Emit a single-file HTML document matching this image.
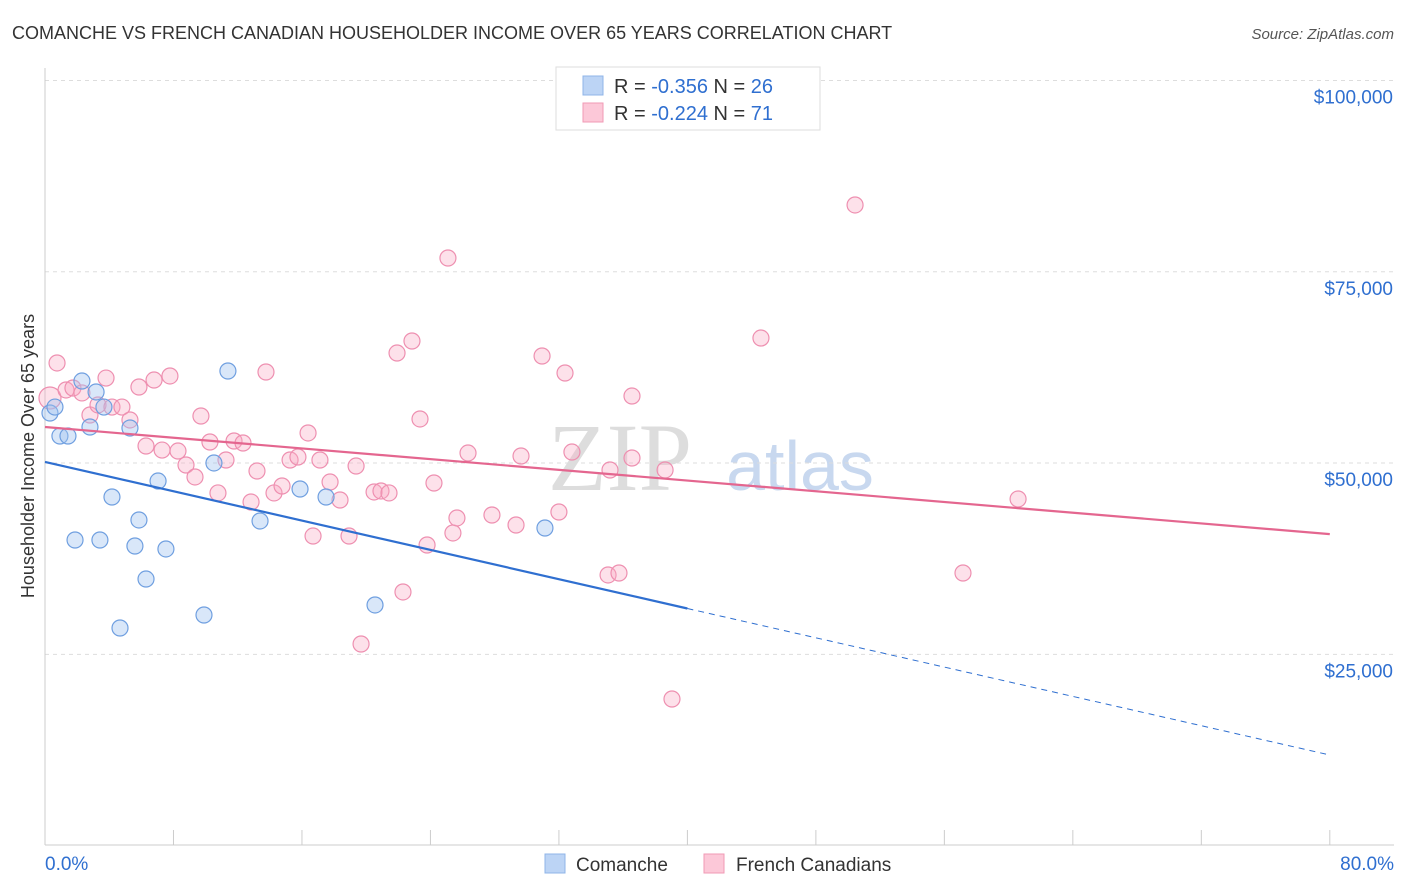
<!DOCTYPE html>
<html><head><meta charset="utf-8"><style>
body{margin:0;background:#fff;font-family:"Liberation Sans",sans-serif;}
svg{display:block}
</style></head><body>
<svg id="chart" width="1406" height="892">
<text x="12" y="39" font-size="18" fill="#333">COMANCHE VS FRENCH CANADIAN HOUSEHOLDER INCOME OVER 65 YEARS CORRELATION CHART</text>
<text x="1394" y="39" font-size="15" fill="#555" font-style="italic" text-anchor="end">Source: ZipAtlas.com</text>
<text x="620" y="490" font-size="96" fill="#ddd" font-family="Liberation Serif,serif" text-anchor="middle">ZIP</text>
<text x="800" y="490" font-size="70" fill="#c8d8ef" text-anchor="middle">atlas</text>
<g id="grid"></g>
<g id="axes"></g>
<g id="marks"></g>
<text transform="translate(34,456) rotate(-90)" font-size="18" fill="#333" text-anchor="middle">Householder Income Over 65 years</text>
<g>
<rect x="556" y="67" width="264" height="63" fill="#fff" stroke="#ddd"/>
<rect x="583" y="76" width="20" height="19" fill="#bcd4f5" stroke="#8fb4e8"/>
<rect x="583" y="103" width="20" height="19" fill="#fcc8d8" stroke="#f09ab5"/>
<text x="614" y="93" font-size="20" fill="#333">R = <tspan fill="#2f6fd0">-0.356</tspan>   N = <tspan fill="#2f6fd0">26</tspan></text>
<text x="614" y="120" font-size="20" fill="#333">R = <tspan fill="#2f6fd0">-0.224</tspan>   N = <tspan fill="#2f6fd0"> 71</tspan></text>
</g>
<g>
<rect x="545" y="854" width="20" height="19" fill="#bcd4f5" stroke="#8fb4e8"/>
<text x="576" y="871" font-size="19" fill="#333">Comanche</text>
<text x="736" y="871" font-size="19" fill="#333">French Canadians</text>
<rect x="704" y="854" width="20" height="19" fill="#fcc8d8" stroke="#f09ab5"/>
</g>
</svg>
<script>
const blueX=[0.31,0.62,0.93,1.43,2.30,3.18,3.67,2.80,5.29,4.17,5.85,1.87,3.42,5.60,7.53,6.29,4.67,7.04,10.52,11.39,13.39,9.90,15.88,17.50,20.55,31.13];
const blueY=[56540,57320,53530,53530,60720,59290,57320,54710,54580,45560,42560,39940,39940,39160,38770,34840,28440,47650,50010,62030,42430,30140,46610,45560,31450,41510];
const pinkX=[0.31,0.75,1.31,1.74,2.30,2.80,3.30,3.80,4.17,4.79,5.29,5.85,6.29,6.79,7.29,7.78,8.28,8.78,9.34,9.71,10.27,10.77,11.27,11.77,12.33,12.83,13.20,13.76,14.26,14.76,15.26,15.75,16.38,16.69,17.12,17.75,18.37,18.93,19.37,19.68,20.49,20.92,21.42,21.92,22.29,22.85,23.35,23.79,24.22,25.09,25.40,25.65,26.34,27.83,29.33,29.64,30.95,32.00,32.38,32.81,35.06,35.18,35.74,36.55,36.55,38.61,39.04,44.58,50.44,57.16,60.59];
const pinkY=[58500,63080,59550,59810,59160,56280,57590,61110,57320,57320,55630,59940,52230,60850,51700,61380,51570,49740,48180,56150,52750,46090,50400,52880,52620,44910,48960,61900,46090,47000,50400,50790,53930,40460,50400,47520,45170,40460,49610,26350,46220,46350,46090,64380,33150,65950,55760,39290,47390,76800,40860,42820,51310,43210,41900,50920,63990,43600,61770,51440,35370,49090,35630,50660,58760,49090,19160,66340,83730,35630,45300];
const yTicks=[25000,50000,75000,100000];
const yTickLabels=["$25,000","$50,000","$75,000","$100,000"];
const xTickLabels=["0.0%","80.0%"];
const blueTrend=[50140,11840]; // y at x=0 and x=80
const blueSolidEnd=40;
const pinkTrend=[54710,40710];
const NS="http://www.w3.org/2000/svg";
const X=v=>45+v*16.06;
const Y=v=>845.6-v/130.7;
function mk(tag,attrs,parent){const e=document.createElementNS(NS,tag);for(const k in attrs)e.setAttribute(k,attrs[k]);parent.appendChild(e);return e;}
const grid=document.getElementById('grid'),axes=document.getElementById('axes'),marks=document.getElementById('marks');
yTicks.forEach((t,i)=>{
  const l=mk('line',{x1:45,x2:1394,y1:Y(t),y2:Y(t),stroke:'#ddd','stroke-dasharray':'4,4'},grid);
  
  
  const tx=mk('text',{x:1393,y:Y(t)+23,'font-size':19,fill:'#2f6fd0','text-anchor':'end'},axes);
  tx.textContent=yTickLabels[i];
  
  
});
const xa=mk('line',{x1:45,x2:1394,y1:845,y2:845,stroke:'#ccc'},axes);


const ya=mk('line',{x1:45,x2:45,y1:68,y2:845,stroke:'#ccc'},axes);


for(let i=0;i<=10;i++){const t=mk('line',{x1:X(i*8),x2:X(i*8),y1:830,y2:845,stroke:'#ccc'},axes);
  
  }
[[0,'start',45],[80,'end',1394]].forEach((d,i)=>{const t=mk('text',{x:d[2],y:870,'font-size':19,fill:'#2f6fd0','text-anchor':d[1]},axes);t.textContent=xTickLabels[i];
  
  });
pinkX.forEach((x,i)=>{const c=mk('circle',{cx:X(x),cy:Y(pinkY[i]),r:i===0?11:8,fill:'rgba(248,170,195,0.35)',stroke:'#ee8fb0','stroke-width':1.2},marks);
  
  });
blueX.forEach((x,i)=>{const c=mk('circle',{cx:X(x),cy:Y(blueY[i]),r:8,fill:'rgba(160,195,240,0.4)',stroke:'#6f9fe0','stroke-width':1.2},marks);
  
  });
const by=x=>blueTrend[0]+(blueTrend[1]-blueTrend[0])*x/80;
const b1=mk('line',{x1:X(0),y1:Y(by(0)),x2:X(blueSolidEnd),y2:Y(by(blueSolidEnd)),stroke:'#2f6fd0','stroke-width':2.2},marks);


const b2=mk('line',{x1:X(blueSolidEnd),y1:Y(by(blueSolidEnd)),x2:X(80),y2:Y(by(80)),stroke:'#2f6fd0','stroke-width':1,'stroke-dasharray':'6,5'},marks);


const p1=mk('line',{x1:X(0),y1:Y(pinkTrend[0]),x2:X(80),y2:Y(pinkTrend[1]),stroke:'#e4668f','stroke-width':2.2},marks);


</script>
</body></html>
